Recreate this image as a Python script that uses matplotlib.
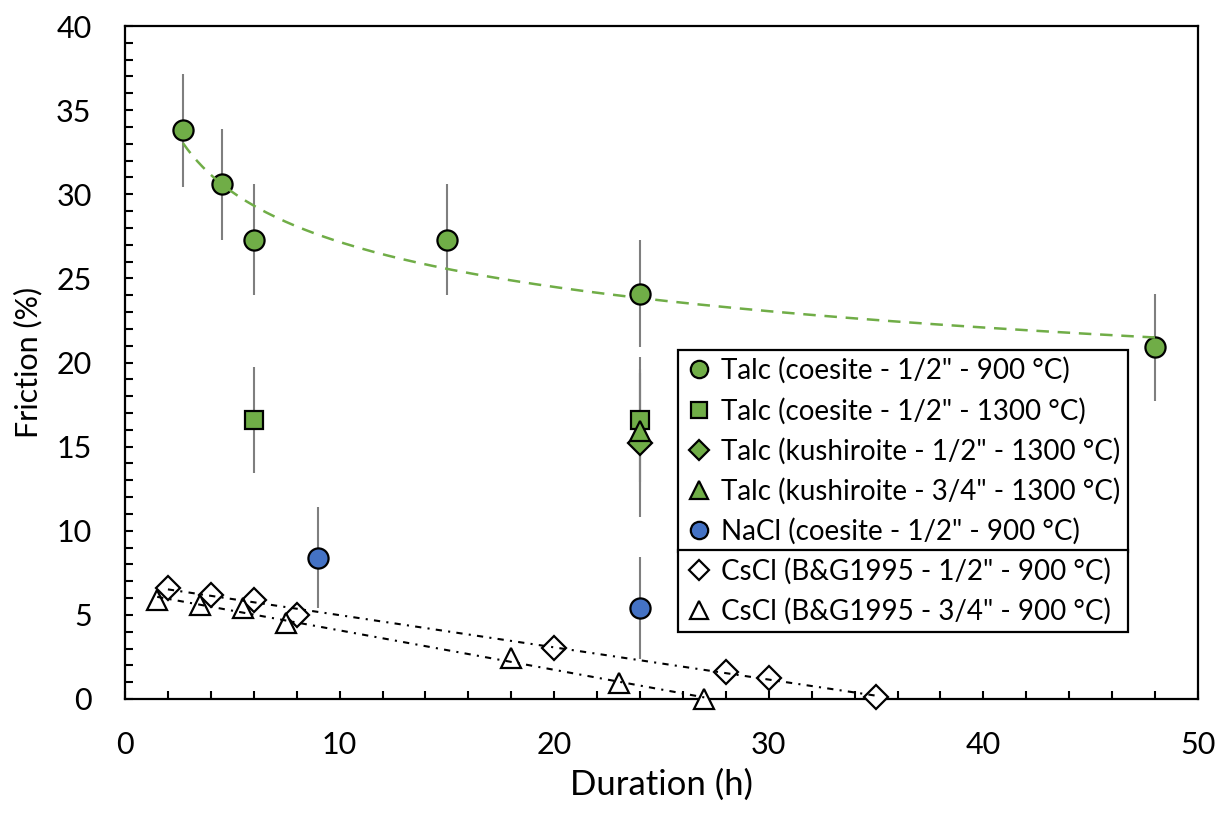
import numpy as np
import matplotlib
matplotlib.use('Agg')
import matplotlib.pyplot as plt
from matplotlib.lines import Line2D
from matplotlib.ticker import MultipleLocator

plt.rcParams['font.family'] = ['Lato', 'DejaVu Sans']

GREEN = '#70AD47'
BLUE = '#4472C4'
ERR = '#7F7F7F'

# Talc (coesite - 1/2" - 900 C)
talc_900_x = [2.7, 4.5, 6, 15, 24, 48]
talc_900_y = [33.8, 30.6, 27.3, 27.3, 24.1, 20.9]
talc_900_err = [3.35, 3.3, 3.3, 3.3, 3.2, 3.2]

# Talc (coesite - 1/2" - 1300 C)
talc_1300_x = [6, 24]
talc_1300_y = [16.6, 16.6]
talc_1300_err = [3.15, 3.7]

# Talc (kushiroite - 1/2" - 1300 C)
kush_half_x = [24]
kush_half_y = [15.2]
kush_half_err = [4.4]

# Talc (kushiroite - 3/4" - 1300 C)
kush_3q_x = [24]
kush_3q_y = [15.9]
kush_3q_err = [3.5]

# NaCl (coesite - 1/2" - 900 C)
nacl_x = [9, 24]
nacl_y = [8.4, 5.4]
nacl_err = [3.0, 3.05]

# CsCl (B&G1995)
cscl_half_x = [2, 4, 6, 8, 20, 28, 30, 35]
cscl_half_y = [6.6, 6.2, 5.9, 5.0, 3.05, 1.6, 1.25, 0.12]
cscl_3q_x = [1.5, 3.5, 5.5, 7.5, 18, 23, 27]
cscl_3q_y = [5.9, 5.6, 5.4, 4.5, 2.45, 0.95, 0.0]

labels = ['Talc (coesite - 1/2" - 900 °C)',
          'Talc (coesite - 1/2" - 1300 °C)',
          'Talc (kushiroite - 1/2" - 1300 °C)',
          'Talc (kushiroite - 3/4" - 1300 °C)',
          'NaCl (coesite - 1/2" - 900 °C)',
          'CsCl (B&G1995 - 1/2" - 900 °C)',
          'CsCl (B&G1995 - 3/4" - 900 °C)']

fig = plt.figure(figsize=(12.28, 8.23), dpi=100)
ax = fig.add_axes([125 / 1228, 124 / 823, 1073 / 1228, 673 / 823])

ebkw = dict(fmt='none', ecolor=ERR, elinewidth=1.5, capsize=0, zorder=1)
ax.errorbar(talc_900_x, talc_900_y, yerr=talc_900_err, **ebkw)
ax.errorbar(talc_1300_x, talc_1300_y, yerr=talc_1300_err, **ebkw)
ax.errorbar(kush_half_x, kush_half_y, yerr=kush_half_err, **ebkw)
ax.errorbar(kush_3q_x, kush_3q_y, yerr=kush_3q_err, **ebkw)
ax.errorbar(nacl_x, nacl_y, yerr=nacl_err, **ebkw)

mkw = dict(linestyle='none', markeredgecolor='black', markeredgewidth=1.6, zorder=3, clip_on=False)
ax.plot(talc_900_x, talc_900_y, 'o', ms=14.5, mfc=GREEN, **mkw)
ax.plot(talc_1300_x, talc_1300_y, 's', ms=13.5, mfc=GREEN, **mkw)
ax.plot(kush_half_x, kush_half_y, 'D', ms=12, mfc=GREEN, **mkw)
ax.plot(kush_3q_x, kush_3q_y, '^', ms=15, mfc=GREEN, **mkw)
ax.plot(nacl_x, nacl_y, 'o', ms=14.5, mfc=BLUE, **mkw)
ax.plot(cscl_half_x, cscl_half_y, 'D', ms=12, mfc='white', **mkw)
ax.plot(cscl_3q_x, cscl_3q_y, '^', ms=15, mfc='white', **mkw)

# power-law trendline for talc 900 (fit in log-log space)
b, loga = np.polyfit(np.log(talc_900_x), np.log(talc_900_y), 1)
xs = np.linspace(min(talc_900_x), max(talc_900_x), 200)
ax.plot(xs, np.exp(loga) * xs ** b, color=GREEN, lw=1.8, ls=(0, (5, 3.5)), zorder=4)

# linear trendlines for CsCl
for cx, cy in [(cscl_half_x, cscl_half_y), (cscl_3q_x, cscl_3q_y)]:
    m, c = np.polyfit(cx, cy, 1)
    xl = np.array([min(cx), max(cx)])
    ax.plot(xl, m * xl + c, color='black', lw=1.5, ls=(0, (3, 3, 1, 3)), zorder=4)

ax.set_xlim(0, 50)
ax.set_ylim(0, 40)
ax.xaxis.set_major_locator(MultipleLocator(10))
ax.xaxis.set_minor_locator(MultipleLocator(2))
ax.yaxis.set_major_locator(MultipleLocator(5))
ax.yaxis.set_minor_locator(MultipleLocator(1))
ax.tick_params(which='both', direction='in', length=6, width=1.5, labelsize=22,
               top=False, right=False)
ax.tick_params(axis='y', pad=24)
ax.tick_params(axis='x', pad=23)
for s in ax.spines.values():
    s.set_linewidth(1.6)
    s.set_color('black')

ax.set_xlabel('Duration (h)', fontsize=25, labelpad=7)
ax.set_ylabel('Friction (%)', fontsize=22, labelpad=10)

def handle(marker, fc, ms):
    return Line2D([], [], linestyle='none', marker=marker, mfc=fc, mec='black', mew=1.6, ms=ms)

h1 = [handle('o', GREEN, 12.5), handle('s', GREEN, 12), handle('D', GREEN, 10),
      handle('^', GREEN, 13), handle('o', BLUE, 12.5)]
h2 = [handle('D', 'white', 10), handle('^', 'white', 13)]

lx0 = (678 - 125) / 1073
lw_ = (1128 - 678) / 1073
legkw = dict(fontsize=20, handlelength=1.0, handletextpad=0.3, borderaxespad=0,
             fancybox=False, edgecolor='black', framealpha=1, mode='expand',
             borderpad=0.26, labelspacing=0.48)
leg1 = ax.legend(h1, labels[:5], loc='upper left',
                 bbox_to_anchor=(lx0, (699 - 552) / 673, lw_, (552 - 350) / 673), **legkw)
leg1.get_frame().set_linewidth(1.6)
ax.add_artist(leg1)
leg2 = ax.legend(h2, labels[5:], loc='lower left',
                 bbox_to_anchor=(lx0, (699 - 632) / 673, lw_, (632 - 552) / 673), **legkw)
leg2.get_frame().set_linewidth(1.6)

fig.savefig('out.png', dpi=100)
